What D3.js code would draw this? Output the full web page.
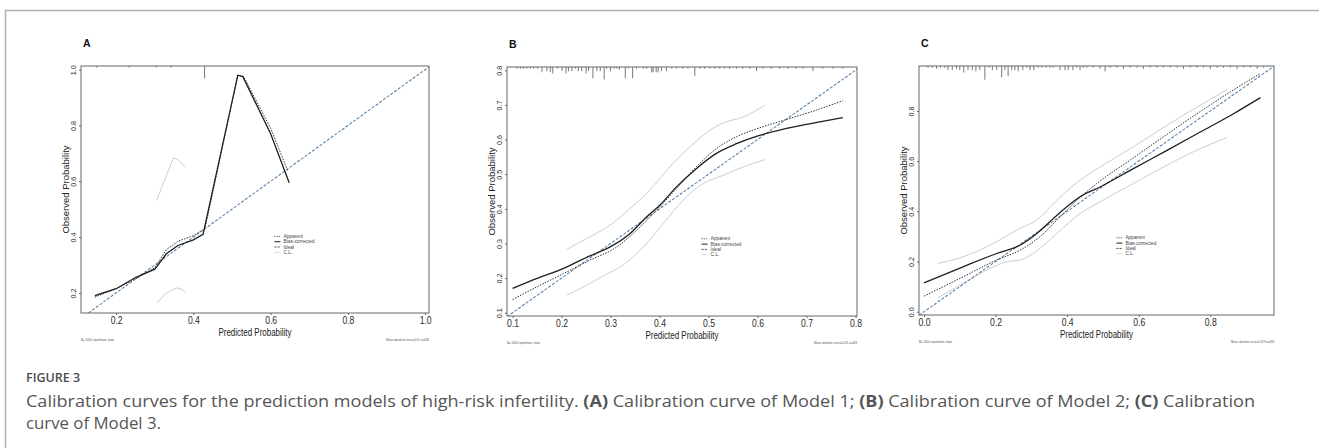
<!DOCTYPE html>
<html>
<head>
<meta charset="utf-8">
<script src="https://cdn.jsdelivr.net/npm/d3@7"></script>
<style>
  body { margin: 0; background: #fff; }
  svg { display: block; }
</style>
</head>
<body>
<script>
// ---- data ----
var legendLabels = ["Apparent", "Bias-corrected", "Ideal", "C.L."];

// panel A
var apparentA = [[0.145,0.185],[0.2,0.215],[0.25,0.25],[0.3,0.29],[0.33,0.355],[0.36,0.385],[0.4,0.405],[0.43,0.43],[0.515,0.98],[0.53,0.975],[0.6,0.79],[0.645,0.635]];
var biasA = [[0.145,0.19],[0.2,0.215],[0.25,0.255],[0.3,0.285],[0.33,0.34],[0.36,0.37],[0.4,0.39],[0.425,0.41],[0.515,0.98],[0.528,0.975],[0.6,0.77],[0.648,0.595]];
var ciUpperA = [[0.305,0.532],[0.33,0.62],[0.348,0.684],[0.36,0.678],[0.379,0.651]];
var ciLowerA = [[0.305,0.164],[0.33,0.2],[0.357,0.218],[0.37,0.213],[0.379,0.2]];
var rugA = [[0.15,1],[0.234,1],[0.304,1],[0.342,1],[0.429,10]];
var ticksA = [0.2,0.4,0.6,0.8,1.0];
var noteA = ["B= 1000 repetitions, boot", "Mean absolute error=0.01 n=408"];

// panel B
var apparentB = [[0.1,0.138],[0.15,0.175],[0.204,0.213],[0.258,0.252],[0.313,0.29],[0.353,0.338],[0.394,0.396],[0.435,0.459],[0.475,0.521],[0.516,0.574],[0.557,0.608],[0.611,0.637],[0.666,0.661],[0.72,0.685],[0.774,0.712]];
var biasB = [[0.1,0.17],[0.15,0.199],[0.204,0.228],[0.251,0.26],[0.299,0.29],[0.34,0.329],[0.374,0.377],[0.401,0.411],[0.435,0.464],[0.475,0.516],[0.516,0.56],[0.557,0.588],[0.604,0.612],[0.659,0.632],[0.727,0.651],[0.774,0.663]];
var ciUpperB = [[0.211,0.283],[0.251,0.314],[0.299,0.353],[0.34,0.401],[0.38,0.454],[0.421,0.521],[0.462,0.579],[0.503,0.627],[0.53,0.648],[0.571,0.665],[0.615,0.699]];
var ciLowerB = [[0.211,0.151],[0.245,0.175],[0.285,0.206],[0.326,0.238],[0.367,0.29],[0.408,0.358],[0.448,0.425],[0.489,0.473],[0.53,0.497],[0.571,0.521],[0.615,0.542]];
var rugB = [[0.109,1],[0.116,1],[0.122,1],[0.129,1],[0.136,1],[0.143,1],[0.151,1],[0.160,4],[0.170,3],[0.177,4],[0.182,5],[0.192,1],[0.201,3],[0.209,5],[0.214,3],[0.221,3],[0.228,1],[0.234,3],[0.241,3],[0.250,5],[0.255,3],[0.264,9],[0.272,3],[0.279,3],[0.287,10],[0.292,1],[0.300,3],[0.307,1],[0.313,1],[0.318,2],[0.330,9],[0.336,1],[0.345,9],[0.353,1],[0.367,1],[0.374,1],[0.384,4],[0.387,4],[0.393,4],[0.397,4],[0.404,3],[0.414,3],[0.425,1],[0.435,1],[0.448,1],[0.458,1],[0.472,7],[0.482,1],[0.492,1],[0.503,1],[0.513,1],[0.523,1],[0.533,1],[0.543,1],[0.557,1],[0.570,1],[0.584,1],[0.598,3],[0.611,1],[0.628,1],[0.645,1],[0.662,1],[0.679,1],[0.693,1],[0.713,3],[0.733,1],[0.754,1],[0.774,1]];
var ticksB = [0.1,0.2,0.3,0.4,0.5,0.6,0.7,0.8];
var noteB = ["B= 1000 repetitions, boot", "Mean absolute error=0.021 n=408"];

// panel C
var apparentC = [[0.0,0.062],[0.109,0.139],[0.203,0.206],[0.268,0.245],[0.324,0.299],[0.38,0.378],[0.427,0.444],[0.483,0.511],[0.576,0.604],[0.669,0.697],[0.763,0.789],[0.856,0.876],[0.94,0.949]];
var biasC = [[0.0,0.115],[0.109,0.179],[0.203,0.232],[0.268,0.265],[0.315,0.312],[0.361,0.371],[0.399,0.418],[0.436,0.458],[0.492,0.497],[0.585,0.57],[0.679,0.643],[0.772,0.716],[0.865,0.789],[0.94,0.853]];
var ciUpperC = [[0.039,0.192],[0.109,0.219],[0.184,0.265],[0.268,0.332],[0.315,0.365],[0.371,0.444],[0.436,0.524],[0.492,0.577],[0.585,0.657],[0.679,0.743],[0.772,0.823],[0.847,0.885]];
var ciLowerC = [[0.039,0.056],[0.109,0.113],[0.184,0.172],[0.231,0.199],[0.268,0.206],[0.305,0.232],[0.371,0.312],[0.436,0.391],[0.492,0.438],[0.585,0.511],[0.679,0.584],[0.772,0.65],[0.847,0.694]];
var rugC = [[0.011,1],[0.023,1],[0.035,2],[0.046,1],[0.058,1],[0.067,3],[0.079,3],[0.091,2],[0.100,3],[0.111,5],[0.123,3],[0.135,3],[0.145,4],[0.156,3],[0.170,11],[0.182,1],[0.191,3],[0.203,3],[0.217,9],[0.226,3],[0.235,8],[0.245,3],[0.254,3],[0.263,4],[0.276,3],[0.287,1],[0.296,3],[0.307,3],[0.319,1],[0.329,1],[0.341,1],[0.352,1],[0.361,1],[0.380,3],[0.394,3],[0.403,3],[0.416,3],[0.427,1],[0.436,3],[0.445,1],[0.455,1],[0.473,1],[0.492,2],[0.506,4],[0.520,1],[0.539,1],[0.557,2],[0.576,1],[0.595,1],[0.613,2],[0.632,1],[0.651,1],[0.669,1],[0.688,1],[0.707,1],[0.725,2],[0.744,1],[0.763,1],[0.781,1],[0.800,2],[0.819,1],[0.837,1],[0.856,1],[0.875,2],[0.893,1],[0.912,1],[0.931,2],[0.949,1]];
var ticksC = [0.0,0.2,0.4,0.6,0.8];
var noteC = ["B= 1000 repetitions, boot", "Mean absolute error=0.029 n=408"];

// ---- layout ----
var panels = [
  {label:"A", box:{l:81, t:66, r:429, b:313}, xDomain:[0.109,1.01], yDomain:[0.128,1.013],
   ticks:ticksA, apparent:apparentA, bias:biasA, up:ciUpperA, lo:ciLowerA, rug:rugA, note:noteA, smooth:false},
  {label:"B", box:{l:507, t:67, r:857, b:316}, xDomain:[0.0886,0.803], yDomain:[0.0905,0.8095],
   ticks:ticksB, apparent:apparentB, bias:biasB, up:ciUpperB, lo:ciLowerB, rug:rugB, note:noteB, smooth:true},
  {label:"C", box:{l:919, t:66, r:1274, b:315}, xDomain:[-0.014,0.978], yDomain:[-0.013,0.979],
   ticks:ticksC, apparent:apparentC, bias:biasC, up:ciUpperC, lo:ciLowerC, rug:rugC, note:noteC, smooth:true}
];

var width = 1319, height = 448;
var font = "'Liberation Sans', Arial, sans-serif";
var axisColor = "#666";

var svg = d3.select("body").append("svg")
  .attr("width", width)
  .attr("height", height);

// outer frame of the figure
svg.append("rect")
  .attr("x", 5.5).attr("y", 10.5)
  .attr("width", 1400).attr("height", 500)
  .attr("fill", "none")
  .attr("stroke", "#b0b0b0")
  .attr("stroke-width", 1.5);

var rugLen = d3.scaleLinear().domain([0, 10]).range([0, 12]);
var fmt = d3.format(".1f");

panels.forEach(function(p, i){
  var b = p.box;
  var x = d3.scaleLinear().domain(p.xDomain).range([b.l, b.r]);
  var y = d3.scaleLinear().domain(p.yDomain).range([b.b, b.t]);
  var g = svg.append("g");

  g.append("clipPath").attr("id", "clip" + i)
    .append("rect")
    .attr("x", b.l).attr("y", b.t)
    .attr("width", b.r - b.l).attr("height", b.b - b.t);

  var line = d3.line()
    .x(function(d){ return x(d[0]); })
    .y(function(d){ return y(d[1]); })
    .curve(p.smooth ? d3.curveMonotoneX : d3.curveLinear);

  var plot = g.append("g").attr("clip-path", "url(#clip" + i + ")");

  // confidence limits
  [p.up, p.lo].forEach(function(ci){
    plot.append("path").datum(ci)
      .attr("d", line)
      .attr("fill", "none")
      .attr("stroke", "#cdcdcd")
      .attr("stroke-width", 1);
  });

  // ideal
  var lo = Math.min(p.xDomain[0], p.yDomain[0]), hi = Math.max(p.xDomain[1], p.yDomain[1]);
  plot.append("path").datum([[lo, lo], [hi, hi]])
    .attr("d", d3.line().x(function(d){ return x(d[0]); }).y(function(d){ return y(d[1]); }))
    .attr("fill", "none")
    .attr("stroke", "#5a84ab")
    .attr("stroke-width", 1.1)
    .attr("stroke-dasharray", "3,1.6");

  // apparent
  plot.append("path").datum(p.apparent)
    .attr("d", line)
    .attr("fill", "none")
    .attr("stroke", "#333")
    .attr("stroke-width", 1)
    .attr("stroke-dasharray", "1.5,1.3");

  // bias-corrected
  plot.append("path").datum(p.bias)
    .attr("d", line)
    .attr("fill", "none")
    .attr("stroke", "#1e1e1e")
    .attr("stroke-width", 1.3);

  // rug of predicted values along the top
  g.append("g").selectAll("line")
    .data(p.rug)
    .enter()
    .append("line")
    .attr("x1", function(d){ return x(d[0]); })
    .attr("x2", function(d){ return x(d[0]); })
    .attr("y1", b.t)
    .attr("y2", function(d){ return b.t + rugLen(d[1]) + 0.5; })
    .attr("stroke", "#555")
    .attr("stroke-width", 0.8);

  // axes
  var xAxis = g.append("g")
    .attr("transform", "translate(0," + b.b + ")")
    .call(d3.axisBottom(x).tickValues(p.ticks).tickFormat(fmt).tickSize(2).tickPadding(1.5).tickSizeOuter(0));
  xAxis.select(".domain").remove();
  xAxis.selectAll("line").attr("stroke", axisColor);
  xAxis.selectAll("text")
    .attr("font-family", font).attr("font-size", 10.5).attr("fill", "#2a2a2a")
    .attr("transform", "scale(0.82,1)");

  var yAxis = g.append("g")
    .attr("transform", "translate(" + b.l + ",0)")
    .call(d3.axisLeft(y).tickValues(p.ticks).tickFormat(fmt).tickSize(2).tickSizeOuter(0));
  yAxis.select(".domain").remove();
  yAxis.selectAll("line").attr("stroke", axisColor);
  yAxis.selectAll("text")
    .attr("font-family", font).attr("font-size", 7.2).attr("fill", "#2a2a2a")
    .attr("transform", "rotate(-90)")
    .attr("x", 0).attr("y", -5.5).attr("dy", 0)
    .attr("text-anchor", "middle");

  // plot box
  g.append("rect")
    .attr("x", b.l).attr("y", b.t)
    .attr("width", b.r - b.l).attr("height", b.b - b.t)
    .attr("fill", "none")
    .attr("stroke", axisColor)
    .attr("stroke-width", 1);

  // titles
  g.append("text")
    .attr("transform", "translate(" + ((b.l + b.r) / 2) + "," + (b.b + 22.5) + ") scale(0.76,1)")
    .attr("text-anchor", "middle")
    .attr("font-family", font).attr("font-size", 10.5).attr("fill", "#222")
    .text("Predicted Probability");

  g.append("text")
    .attr("transform", "translate(" + (b.l - 12.5) + "," + ((b.t + b.b) / 2) + ") rotate(-90)")
    .attr("text-anchor", "middle")
    .attr("font-family", font).attr("font-size", 9.5).attr("fill", "#222")
    .text("Observed Probability");

  g.append("text")
    .attr("x", b.l + 2).attr("y", b.t - 19.5)
    .attr("font-family", font).attr("font-size", 10.5).attr("font-weight", "bold").attr("fill", "#111")
    .text(p.label);

  // footnotes
  g.append("text")
    .attr("x", b.l).attr("y", b.b + 27.5)
    .attr("font-family", font).attr("font-size", 4).attr("fill", "#555")
    .attr("textLength", 33).attr("lengthAdjust", "spacingAndGlyphs")
    .text(p.note[0]);
  g.append("text")
    .attr("x", b.r - 43).attr("y", b.b + 27.5)
    .attr("font-family", font).attr("font-size", 4).attr("fill", "#555")
    .attr("textLength", 43).attr("lengthAdjust", "spacingAndGlyphs")
    .text(p.note[1]);

  // legend
  var lx = b.l + 0.556 * (b.r - b.l), ly = b.t + 0.69 * (b.b - b.t);
  var styles = [
    {stroke:"#333", dash:"1.2,1", w:0.8},
    {stroke:"#1e1e1e", dash:null, w:1},
    {stroke:"#333", dash:"2,1.2", w:0.9},
    {stroke:"#cdcdcd", dash:null, w:0.8}
  ];
  var leg = g.append("g").selectAll("g")
    .data(legendLabels)
    .enter()
    .append("g")
    .attr("transform", function(d, k){ return "translate(" + lx + "," + (ly + k * 5.3) + ")"; });
  leg.append("line")
    .attr("x1", 0).attr("x2", 6)
    .attr("stroke", function(d, k){ return styles[k].stroke; })
    .attr("stroke-width", function(d, k){ return styles[k].w; })
    .attr("stroke-dasharray", function(d, k){ return styles[k].dash; });
  leg.append("text")
    .attr("x", 9).attr("y", 1.6)
    .attr("font-family", font).attr("font-size", 4.8).attr("fill", "#444")
    .text(function(d){ return d; });
});

// caption
var capFont = "'Open Sans', 'Noto Sans', sans-serif";
svg.append("text")
  .attr("x", 26).attr("y", 382)
  .attr("font-family", capFont).attr("font-size", 12.5).attr("font-weight", 600).attr("fill", "#4d4d4d")
  .text("FIGURE 3");

var cap1 = svg.append("text")
  .attr("x", 26).attr("y", 406.5)
  .attr("font-family", capFont).attr("font-size", 16.8).attr("fill", "#555")
  .attr("textLength", 1229).attr("lengthAdjust", "spacingAndGlyphs");
[["Calibration curves for the prediction models of high-risk infertility. ", false],
 ["(A)", true], [" Calibration curve of Model 1; ", false],
 ["(B)", true], [" Calibration curve of Model 2; ", false],
 ["(C)", true], [" Calibration", false]].forEach(function(s){
  cap1.append("tspan").attr("font-weight", s[1] ? "bold" : "normal").text(s[0]);
});

svg.append("text")
  .attr("x", 26).attr("y", 429)
  .attr("font-family", capFont).attr("font-size", 16.8).attr("fill", "#555")
  .text("curve of Model 3.");
</script>
</body>
</html>
